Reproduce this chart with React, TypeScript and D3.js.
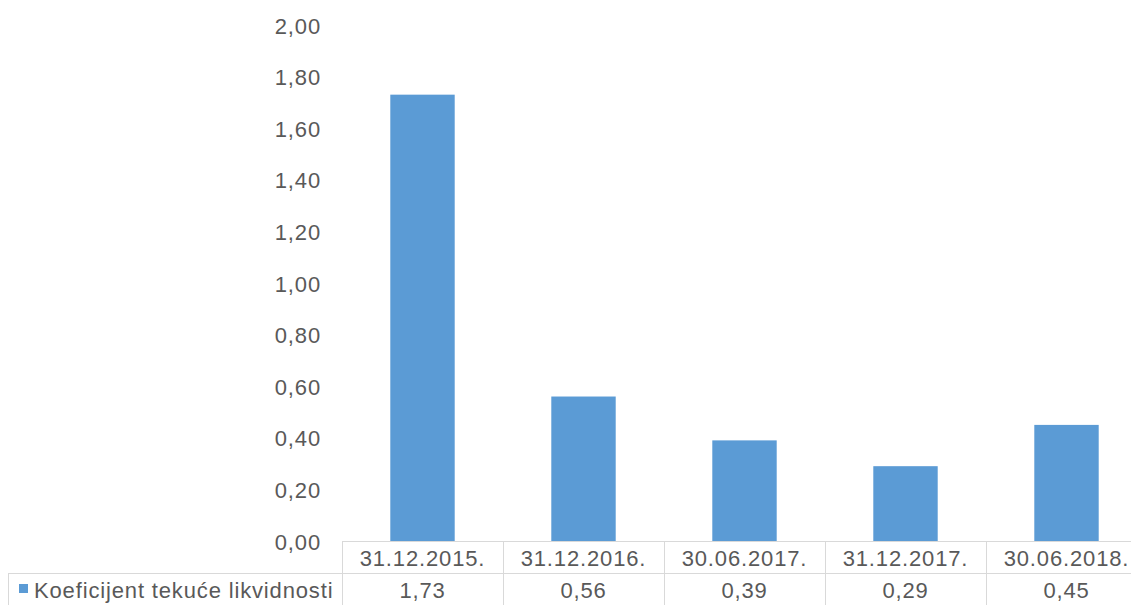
import React from "react";
import * as d3 from "d3";

const categories = ["31.12.2015.", "31.12.2016.", "30.06.2017.", "31.12.2017.", "30.06.2018."];
const values = [1.73, 0.56, 0.39, 0.29, 0.45];
const seriesName = "Koeficijent tekuće likvidnosti";
const yTicks = [0, 0.2, 0.4, 0.6, 0.8, 1.0, 1.2, 1.4, 1.6, 1.8, 2.0];

const W = 1131;
const H = 605;
const fmt = (v: number) => v.toFixed(2).replace(".", ",");

export default function App() {
  const x = d3.scaleBand<string>().domain(categories).range([342, 1147]).paddingInner(0.6).paddingOuter(0.3);
  const y = d3.scaleLinear().domain([0, 2]).range([541, 25]);
  const step = x.step();
  const x0 = 342;
  const xEnd = x0 + step * categories.length;
  const rowTop = 541;
  const rowMid = 573;
  const rowBot = 605;
  const border = "#d9d9d9";
  const textColor = "#595959";
  const font = { fontFamily: "'Liberation Sans', Arial, sans-serif", fontSize: 22, letterSpacing: 0.85 };

  return (
    <svg width={W} height={H} style={{ position: "absolute", left: 0, top: 0, background: "#fff" }}>
      {yTicks.map((t) => (
        <text key={t} x={321} y={y(t) + 1} textAnchor="end" dominantBaseline="central" fill={textColor} style={font}>
          {fmt(t)}
        </text>
      ))}
      {categories.map((c, i) => (
        <rect key={c} x={x(c)} y={y(values[i])} width={x.bandwidth()} height={y(0) - y(values[i])} fill="#5b9bd5" />
      ))}
      <line x1={x0} x2={xEnd} y1={rowTop + 0.5} y2={rowTop + 0.5} stroke={border} />
      <line x1={8} x2={xEnd} y1={rowMid + 0.5} y2={rowMid + 0.5} stroke={border} />
      <line x1={8.5} x2={8.5} y1={rowMid} y2={rowBot + 5} stroke={border} />
      {d3.range(categories.length + 1).map((i) => (
        <line key={i} x1={x0 + i * step + 0.5} x2={x0 + i * step + 0.5} y1={rowTop} y2={rowBot + 5} stroke={border} />
      ))}
      {categories.map((c, i) => (
        <g key={c}>
          <text x={(x(c) as number) + x.bandwidth() / 2} y={(rowTop + rowMid) / 2 + 1} textAnchor="middle" dominantBaseline="central" fill={textColor} style={font}>
            {c}
          </text>
          <text x={(x(c) as number) + x.bandwidth() / 2} y={(rowMid + rowBot) / 2 + 1} textAnchor="middle" dominantBaseline="central" fill={textColor} style={font}>
            {fmt(values[i])}
          </text>
        </g>
      ))}
      <rect x={19} y={584} width={9} height={9} fill="#5b9bd5" />
      <text x={34} y={(rowMid + rowBot) / 2 + 1} dominantBaseline="central" fill={textColor} style={font}>
        {seriesName}
      </text>
    </svg>
  );
}
